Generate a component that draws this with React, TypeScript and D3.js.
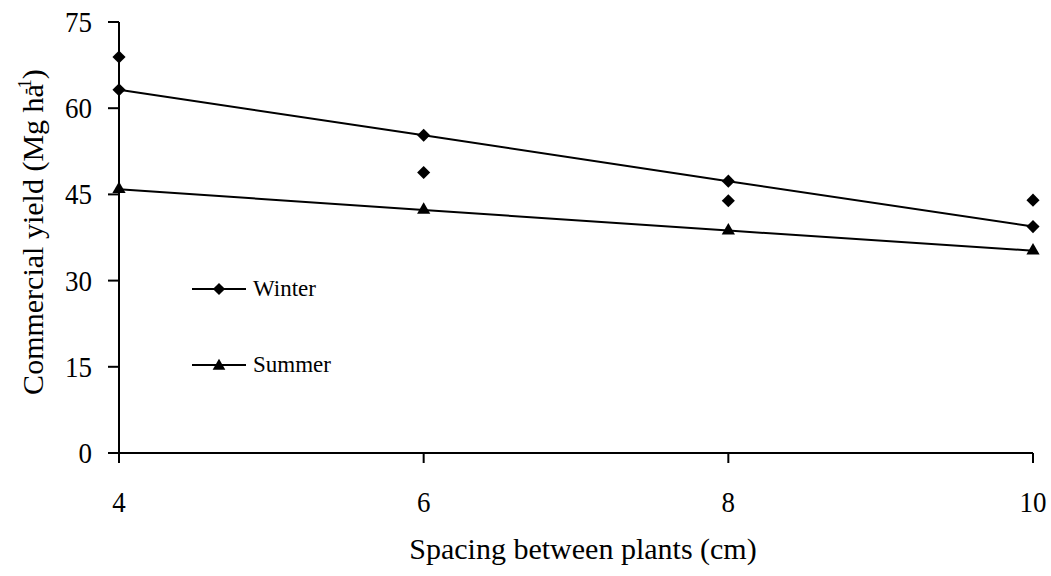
import React from "react";
import * as d3 from "d3";

const spacing = [4, 6, 8, 10];
const winterFitted = [63.2, 55.3, 47.3, 39.4];
const winterObserved = [68.9, 48.8, 43.9, 44.0];
const summerValues = [45.9, 42.3, 38.7, 35.2];
const yTicks = [0, 15, 30, 45, 60, 75];
const xTicks = [4, 6, 8, 10];
const legendItems = ["Winter", "Summer"];

const W = 1051;
const H = 576;
const FONT = "'Liberation Serif', 'Times New Roman', serif";

export default function App() {
  const x = d3.scaleLinear().domain([4, 10]).range([119, 1033]);
  const y = d3.scaleLinear().domain([0, 75]).range([453, 22]);

  const line = d3
    .line<number>()
    .x((_, i) => x(spacing[i]))
    .y((d) => y(d));

  const diamond = d3.symbol().type(d3.symbolSquare).size(86)() as string;
  const triangle = d3.symbol().type(d3.symbolTriangle).size(76)() as string;
  const diamondSmall = d3.symbol().type(d3.symbolSquare).size(74)() as string;
  const triangleSmall = d3.symbol().type(d3.symbolTriangle).size(70)() as string;

  const legendY = [289, 365];

  return (
    <div style={{ position: "absolute", left: 0, top: 0 }}>
      <svg width={W} height={H} style={{ display: "block", background: "#fff" }}>
        <rect x={0} y={0} width={W} height={H} fill="#fff" />
        {/* axes */}
        <line x1={119} x2={119} y1={y(75)} y2={y(0)} stroke="#000" strokeWidth={2} />
        <line x1={x(4)} x2={x(10)} y1={y(0)} y2={y(0)} stroke="#000" strokeWidth={2} />
        {yTicks.map((t) => (
          <g key={"y" + t}>
            <line x1={108} x2={119} y1={y(t)} y2={y(t)} stroke="#000" strokeWidth={2} />
            <text
              transform={`translate(92,${y(t) + 10}) scale(1,1.12)`}
              textAnchor="end"
              fontFamily={FONT}
              fontSize={27}
              fill="#000"
            >
              {t}
            </text>
          </g>
        ))}
        {xTicks.map((t) => (
          <g key={"x" + t}>
            <line x1={x(t)} x2={x(t)} y1={y(0)} y2={y(0) + 10} stroke="#000" strokeWidth={2} />
            <text
              transform={`translate(${x(t)},512) scale(1,1.12)`}
              textAnchor="middle"
              fontFamily={FONT}
              fontSize={27}
              fill="#000"
            >
              {t}
            </text>
          </g>
        ))}
        {/* axis titles */}
        <text
          x={583}
          y={559}
          textAnchor="middle"
          fontFamily={FONT}
          fontSize={30}
          fill="#000"
        >
          Spacing between plants (cm)
        </text>
        <text
          transform={`translate(43,232) rotate(-90)`}
          textAnchor="middle"
          fontFamily={FONT}
          fontSize={30}
          fill="#000"
        >
          Commercial yield (Mg ha
          <tspan fontSize={18} dy={-12} dx={-10}>
            -1
          </tspan>
          <tspan dy={12}>)</tspan>
        </text>

        {/* series lines */}
        <path d={line(winterFitted) as string} fill="none" stroke="#000" strokeWidth={2} />
        <path d={line(summerValues) as string} fill="none" stroke="#000" strokeWidth={2} />

        {winterFitted.map((v, i) => (
          <path
            key={"wf" + i}
            d={diamond}
            transform={`translate(${x(spacing[i])},${y(v)}) rotate(45)`}
            fill="#000"
          />
        ))}
        {winterObserved.map((v, i) => (
          <path
            key={"wo" + i}
            d={diamond}
            transform={`translate(${x(spacing[i])},${y(v)}) rotate(45)`}
            fill="#000"
          />
        ))}
        {summerValues.map((v, i) => (
          <path
            key={"s" + i}
            d={triangle}
            transform={`translate(${x(spacing[i])},${y(v)})`}
            fill="#000"
          />
        ))}

        {/* legend */}
        {legendItems.map((name, i) => (
          <g key={name}>
            <line x1={192} x2={246} y1={legendY[i]} y2={legendY[i]} stroke="#000" strokeWidth={2} />
            <path
              d={i === 0 ? diamondSmall : triangleSmall}
              transform={`translate(219,${legendY[i] + (i === 0 ? 0 : 1)}) ${i === 0 ? "rotate(45)" : ""}`}
              fill="#000"
            />
            <text
              x={253}
              y={legendY[i] + 7}
              fontFamily={FONT}
              fontSize={23}
              fill="#000"
            >
              {name}
            </text>
          </g>
        ))}
      </svg>
    </div>
  );
}
